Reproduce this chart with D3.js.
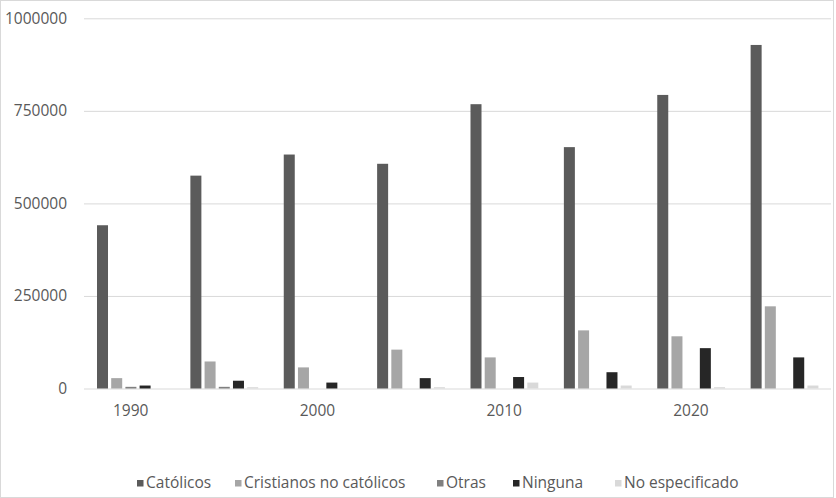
<!DOCTYPE html>
<html>
<head>
<meta charset="utf-8">
<script src="https://cdn.jsdelivr.net/npm/d3@7"></script>
<style>
  body { margin: 0; background: #fff; }
  text { font-family: "Open Sans", "Liberation Sans", sans-serif; fill: #595959; }
</style>
</head>
<body>
<div class="canvas"></div>
<script>
// datos
const years = ["1990", "1995", "2000", "2005", "2010", "2015", "2020", "2025"];
const tickLabels = ["1990", "", "2000", "", "2010", "", "2020", ""];
const series = ["Católicos", "Cristianos no católicos", "Otras", "Ninguna", "No especificado"];
const catolicos = [441000, 575000, 632000, 607000, 768000, 652000, 793000, 928000];
const cristianos = [28000, 73000, 57000, 105000, 84000, 157000, 141000, 222000];
const otras = [4500, 4500, 0, 0, 0, 0, 0, 0];
const ninguna = [8000, 21000, 16000, 28000, 31000, 44000, 109000, 84000];
const noEspecificado = [0, 3500, 0, 3500, 16000, 8000, 3500, 8000];
const yTicks = [0, 250000, 500000, 750000, 1000000];
const colors = ["#5b5b5b", "#a6a6a6", "#808080", "#262626", "#d9d9d9"];

const values = [catolicos, cristianos, otras, ninguna, noEspecificado];
const dim = { width: 836, height: 498 };

const svg = d3.select(".canvas").append("svg")
  .attr("width", dim.width).attr("height", dim.height);

// marco del gráfico
svg.append("rect")
  .attr("x", 0.5).attr("y", 0.5)
  .attr("width", dim.width - 3).attr("height", dim.height - 1)
  .attr("fill", "none").attr("stroke", "#d9d9d9");

const x0 = d3.scaleBand().domain(years).range([84, 831]);
const x1 = d3.scaleBand().domain(series).range([13, 80.8]).paddingInner(0.225);
const y = d3.scaleLinear().domain([0, 1000000]).range([388.5, 18.3]);

const yAxis = svg.append("g")
  .attr("transform", "translate(84,0)")
  .call(d3.axisLeft(y).tickValues(yTicks).tickSize(-747).tickFormat(d3.format("d")).tickPadding(17));
yAxis.select(".domain").remove();
yAxis.selectAll("line").attr("stroke", "#d9d9d9");
yAxis.selectAll("text").style("font-size", "15.5px").attr("fill", "#595959");

const xAxis = svg.append("g")
  .attr("transform", "translate(0,388.5)")
  .call(d3.axisBottom(x0).tickSize(0).tickPadding(16).tickFormat((d, i) => tickLabels[i]));
xAxis.select(".domain").remove();
xAxis.selectAll("text").style("font-size", "15.5px").attr("fill", "#595959");

const groups = svg.selectAll(".grupo").data(years).enter().append("g")
  .attr("class", "grupo")
  .attr("transform", d => `translate(${x0(d)},0)`);

groups.selectAll("rect")
  .data((d, i) => series.map((s, j) => ({ s, v: values[j][i], c: colors[j] })))
  .enter().append("rect")
  .attr("x", d => x1(d.s))
  .attr("width", x1.bandwidth())
  .attr("y", d => y(d.v))
  .attr("height", d => y(0) - y(d.v))
  .attr("fill", d => d.c);

// leyenda
const legendX = [137, 235, 437, 513, 615];
const legend = svg.selectAll(".leyenda").data(series).enter().append("g")
  .attr("class", "leyenda")
  .attr("transform", (d, i) => `translate(${legendX[i]},483)`);
legend.append("rect")
  .attr("x", 0).attr("y", -3).attr("width", 6.5).attr("height", 6.5)
  .attr("fill", (d, i) => colors[i]);
legend.append("text")
  .attr("x", 9).attr("dy", "0.35em")
  .style("font-size", "15.5px")
  .text(d => d);
</script>
</body>
</html>
